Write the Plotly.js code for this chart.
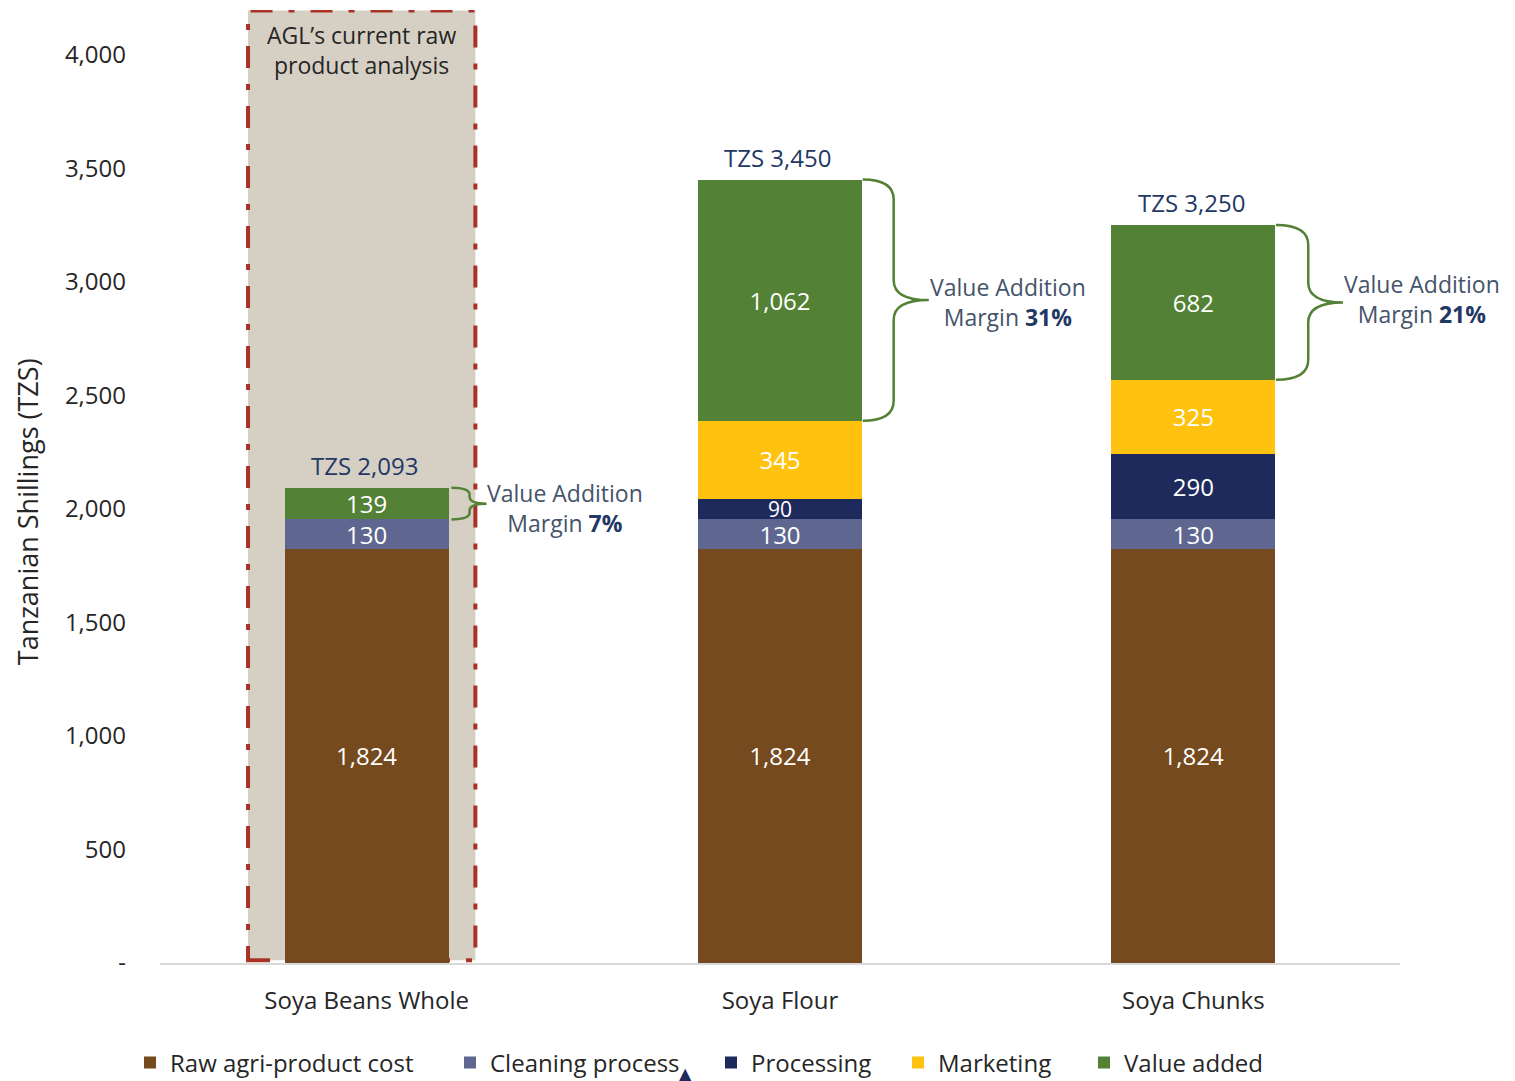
<!DOCTYPE html>
<html><head><meta charset="utf-8">
<script src="https://cdn.plot.ly/plotly-3.0.1.min.js"></script>
<style>html,body{margin:0;padding:0;background:#fff}#chart{width:1515px;height:1081px}</style>
</head><body><div id="chart"></div>
<script>
// ---- data ----
const categories = ['Soya Beans Whole', 'Soya Flour', 'Soya Chunks'];
const rawCost    = [1824, 1824, 1824];
const cleaning   = [130, 130, 130];
const processing = [0, 90, 290];
const marketing  = [0, 345, 325];
const valueAdded = [139, 1062, 682];
const totals     = [2093, 3450, 3250];
const margins    = ['7%', '31%', '21%'];
const seriesNames = ['Raw agri-product cost', 'Cleaning process', 'Processing', 'Marketing', 'Value added'];
const tickVals   = [0, 500, 1000, 1500, 2000, 2500, 3000, 3500, 4000];
const tickText   = ['-', '500', '1,000', '1,500', '2,000', '2,500', '3,000', '3,500', '4,000'];

// ---- styles ----
const colors = ['#754A1E', '#5F6790', '#1F2A5C', '#FFC20E', '#538135'];
const legendWidths = [275, 216, 142, 141, 175];
const FONT = 'Open Sans, sans-serif';
const BW = 0.396;
const series = [rawCost, cleaning, processing, marketing, valueAdded];

const traces = series.map((vals, i) => ({
  type: 'bar', x: categories, y: vals, name: seriesNames[i], width: BW,
  marker: {color: colors[i]},
  text: vals.map(v => v > 0 ? v.toLocaleString('en-US') : ''),
  textposition: 'inside', insidetextanchor: 'middle', textangle: 0,
  textfont: {color: '#FFFFFF', size: vals.map(v => v < 100 ? 21 : 24), family: FONT},
  legendwidth: legendWidths[i],
  hoverinfo: 'skip'
}));

const annotations = [];
const shapes = [];

// highlight box around first category
shapes.push({type: 'rect', xref: 'x', yref: 'y', x0: -0.287, x1: 0.263, y0: 12, y1: 4196,
  fillcolor: '#D6D0C4', layer: 'below',
  line: {color: '#A93226', width: 4, dash: '22px,16px,6px,16px'}});
annotations.push({xref: 'x', yref: 'y', x: -0.012, y: 4022, showarrow: false,
  text: 'AGL’s current raw<br>product analysis', align: 'center',
  font: {family: FONT, size: 23, color: '#262626'}});

// totals
totals.forEach((t, i) => {
  annotations.push({xref: 'x', yref: 'y', x: i - 0.005, y: t, yanchor: 'bottom', yshift: 4,
    showarrow: false, text: 'TZS ' + t.toLocaleString('en-US'),
    font: {family: FONT, size: 24, color: '#1F3864'}});
});

// braces + margin labels
const braceGeom = [
  {x0: 0.205, x1: 0.249, xt: 0.29, r: 30, tx: 0.48, ty: 2004},
  {x0: 0.2, x1: 0.275, xt: 0.36, r: 88, tx: 0.551, ty: 2912},
  {x0: 0.2, x1: 0.278, xt: 0.362, r: 88, tx: 0.553, ty: 2925}
];
categories.forEach((c, i) => {
  const g = braceGeom[i];
  const top = rawCost[i] + cleaning[i] + processing[i] + marketing[i] + valueAdded[i];
  const bot = top - valueAdded[i];
  const ym = (top + bot) / 2;
  const X = v => i + v;
  const r = g.r;
  const p = `M ${X(g.x0)},${top} Q ${X(g.x1)},${top} ${X(g.x1)},${top - r} L ${X(g.x1)},${ym + r} ` +
            `Q ${X(g.x1)},${ym} ${X(g.xt)},${ym} Q ${X(g.x1)},${ym} ${X(g.x1)},${ym - r} ` +
            `L ${X(g.x1)},${bot + r} Q ${X(g.x1)},${bot} ${X(g.x0)},${bot}`;
  shapes.push({type: 'path', xref: 'x', yref: 'y', path: p, line: {color: '#538135', width: 2.5}});
  annotations.push({xref: 'paper', yref: 'y', x: (i + g.tx + 0.5) / 3, y: g.ty, xanchor: 'center',
    showarrow: false, align: 'center',
    text: 'Value Addition<br>Margin <b style="color:#1F3864">' + margins[i] + '</b>',
    font: {family: FONT, size: 23, color: '#44546A'}});
});

// y-axis title (placed as annotation to match off-centre position)
annotations.push({xref: 'paper', yref: 'paper', x: (27 - 160) / 1240, y: 0.473, textangle: -90,
  showarrow: false, text: 'Tanzanian Shillings (TZS)', xanchor: 'center', yanchor: 'middle',
  font: {family: FONT, size: 27, color: '#262626'}});

// small marker under legend
annotations.push({xref: 'paper', yref: 'paper', x: (685 - 160) / 1240, y: -0.1238, xanchor: 'center', yanchor: 'bottom',
  yshift: -4, showarrow: false, text: '▲', font: {family: 'DejaVu Sans', size: 16, color: '#1F2A5C'}});

const layout = {
  width: 1515, height: 1081,
  margin: {l: 160, r: 115, t: 10, b: 118, autoexpand: false},
  barmode: 'stack',
  paper_bgcolor: '#FFFFFF', plot_bgcolor: '#FFFFFF',
  font: {family: FONT, color: '#262626'},
  uniformtext: {mode: 'show', minsize: 21},
  xaxis: {type: 'category', range: [-0.5, 2.5], showgrid: false, zeroline: false, automargin: false,
    showline: true, linecolor: '#D9D9D9', linewidth: 2, ticks: '',
    tickfont: {family: FONT, size: 24, color: '#262626'}, ticklabelstandoff: 15},
  yaxis: {range: [0, 4198], showgrid: false, zeroline: false, showline: false, automargin: false,
    tickvals: tickVals, ticktext: tickText, ticks: '', ticklabelstandoff: 33,
    tickfont: {family: FONT, size: 24, color: '#262626'}},
  legend: {orientation: 'h', xref: 'container', x: 0.0858, xanchor: 'left',
    yref: 'container', y: 0.0167, yanchor: 'middle',
    traceorder: 'normal', font: {family: FONT, size: 24, color: '#262626'}},
  annotations: annotations, shapes: shapes, showlegend: true
};

Plotly.newPlot('chart', traces, layout, {displayModeBar: false, staticPlot: true});
</script></body></html>
